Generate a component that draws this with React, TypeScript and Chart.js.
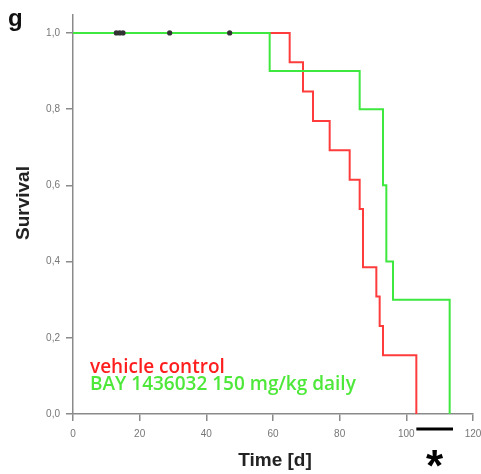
import React, { useEffect, useRef } from "react";
import { Chart, registerables } from "chart.js";

Chart.register(...registerables);

// Kaplan–Meier steps (time in days, survival fraction)
const vehicleTimes = [0, 65, 69, 72, 77, 83, 86, 87, 91, 92, 93, 103];
const vehicleSurvival = [1, 0.923, 0.846, 0.769, 0.692, 0.615, 0.538, 0.385, 0.308, 0.231, 0.154, 0];
const bayTimes = [0, 59, 86, 93, 94, 96, 113];
const baySurvival = [1, 0.9, 0.8, 0.6, 0.4, 0.3, 0];
// censored observations
const censorTimes = [13, 14, 15, 29, 47];
const censorSurvival = [1, 1, 1, 1, 1];
// significance bar span (days)
const sigBar = [103, 114];

const xTicks = [0, 20, 40, 60, 80, 100, 120];
const yTicks = [0, 0.2, 0.4, 0.6, 0.8, 1.0];

const vehicleLabel = "vehicle control";
const bayLabel = "BAY 1436032 150 mg/kg daily";
const xTitle = "Time [d]";
const yTitle = "Survival";
const panelLabel = "g";
const sigMark = "*";

const RED = "#ff3c3c";
const GREEN = "#3ee83e";

const overlay = {
  id: "overlay",
  afterDraw(chart: any) {
    const ctx = chart.ctx as CanvasRenderingContext2D;
    const xs = chart.scales.x;
    const ys = chart.scales.y;
    ctx.save();
    // panel label
    ctx.fillStyle = "#111";
    ctx.font = "bold 24px 'Liberation Sans', Arial, sans-serif";
    ctx.textAlign = "left";
    ctx.textBaseline = "alphabetic";
    ctx.fillText(panelLabel, 8, 26);
    // y title
    ctx.save();
    ctx.translate(29, 203);
    ctx.rotate(-Math.PI / 2);
    ctx.textAlign = "center";
    ctx.font = "bold 19px 'Liberation Sans', Arial, sans-serif";
    ctx.fillStyle = "#222";
    ctx.fillText(yTitle, 0, 0);
    ctx.restore();
    // x title
    ctx.textAlign = "center";
    ctx.font = "bold 19px 'Liberation Sans', Arial, sans-serif";
    ctx.fillStyle = "#222";
    ctx.fillText(xTitle, 275, 466);
    // legend texts
    ctx.textAlign = "left";
    ctx.font = "600 19px 'Open Sans', sans-serif";
    ctx.fillStyle = "#ff1e1e";
    ctx.fillText(vehicleLabel, 90, 373);
    ctx.fillStyle = "#4ee83a";
    ctx.fillText(bayLabel, 90, 390);
    // significance bar
    const x1 = xs.getPixelForValue(sigBar[0]);
    const x2 = xs.getPixelForValue(sigBar[1]);
    ctx.strokeStyle = "#000";
    ctx.lineWidth = 3;
    ctx.beginPath();
    ctx.moveTo(x1, 429);
    ctx.lineTo(x2, 429);
    ctx.stroke();
    ctx.fillStyle = "#000";
    ctx.textAlign = "center";
    ctx.font = "bold 44px 'Liberation Sans', Arial, sans-serif";
    ctx.fillText(sigMark, (x1 + x2) / 2, 481);
    ctx.restore();
  },
};

export default function App() {
  const ref = useRef<HTMLCanvasElement | null>(null);
  useEffect(() => {
    if (!ref.current) return;
    const chart = new Chart(ref.current, {
      type: "line",
      data: {
        datasets: [
          {
            type: "scatter",
            label: "censored",
            data: censorTimes.map((t, i) => ({ x: t, y: censorSurvival[i] })),
            pointRadius: 2.6,
            pointBackgroundColor: "#333",
            pointBorderColor: "#333",
            pointBorderWidth: 0,
            showLine: false,
            order: 0,
          } as any,
          {
            label: bayLabel,
            data: bayTimes.map((t, i) => ({ x: t, y: baySurvival[i] })),
            borderColor: GREEN,
            borderWidth: 2,
            pointRadius: 0,
            stepped: "before",
            fill: false,
            order: 1,
          },
          {
            label: vehicleLabel,
            data: vehicleTimes.map((t, i) => ({ x: t, y: vehicleSurvival[i] })),
            borderColor: RED,
            borderWidth: 2,
            pointRadius: 0,
            stepped: "before",
            fill: false,
            order: 2,
          },
        ],
      },
      options: {
        animation: false,
        responsive: false,
        maintainAspectRatio: false,
        layout: { padding: { top: 15, right: 8, left: 0, bottom: 0 } },
        plugins: { legend: { display: false }, tooltip: { enabled: false } },
        scales: {
          x: {
            type: "linear",
            min: 0,
            max: 120,
            afterBuildTicks: (s: any) => {
              s.ticks = xTicks.map((v) => ({ value: v }));
            },
            afterFit: (s: any) => {
              s.height = 60;
              s.paddingLeft = 0;
              s.paddingRight = 0;
            },
            ticks: {
              autoSkip: false,
              maxRotation: 0,
              padding: 7,
              color: "#777",
              font: { family: "'Liberation Sans', Arial, sans-serif", size: 10 },
            },
            grid: {
              drawOnChartArea: false,
              drawTicks: true,
              tickLength: 7,
              color: "#8a8a8a",
              lineWidth: 1.5,
            },
            border: { display: true, color: "#8a8a8a", width: 1.5 },
          },
          y: {
            type: "linear",
            min: 0,
            max: 1.047,
            afterBuildTicks: (s: any) => {
              s.ticks = yTicks.map((v) => ({ value: v }));
            },
            afterFit: (s: any) => {
              s.width = 73;
              s.paddingTop = 0;
              s.paddingBottom = 0;
            },
            ticks: {
              autoSkip: false,
              padding: 6,
              color: "#777",
              font: { family: "'Liberation Sans', Arial, sans-serif", size: 10 },
              callback: (v: any) => Number(v).toFixed(1).replace(".", ","),
            },
            grid: {
              drawOnChartArea: false,
              drawTicks: true,
              tickLength: 7,
              color: "#8a8a8a",
              lineWidth: 1.5,
            },
            border: { display: true, color: "#8a8a8a", width: 1.5 },
          },
        },
      },
      plugins: [overlay],
    });
    return () => chart.destroy();
  }, []);
  return (
    <div style={{ position: "fixed", left: 0, top: 0, width: 481, height: 474, background: "#fff" }}>
      <canvas ref={ref} width={481} height={474} style={{ width: 481, height: 474, display: "block" }} />
    </div>
  );
}
